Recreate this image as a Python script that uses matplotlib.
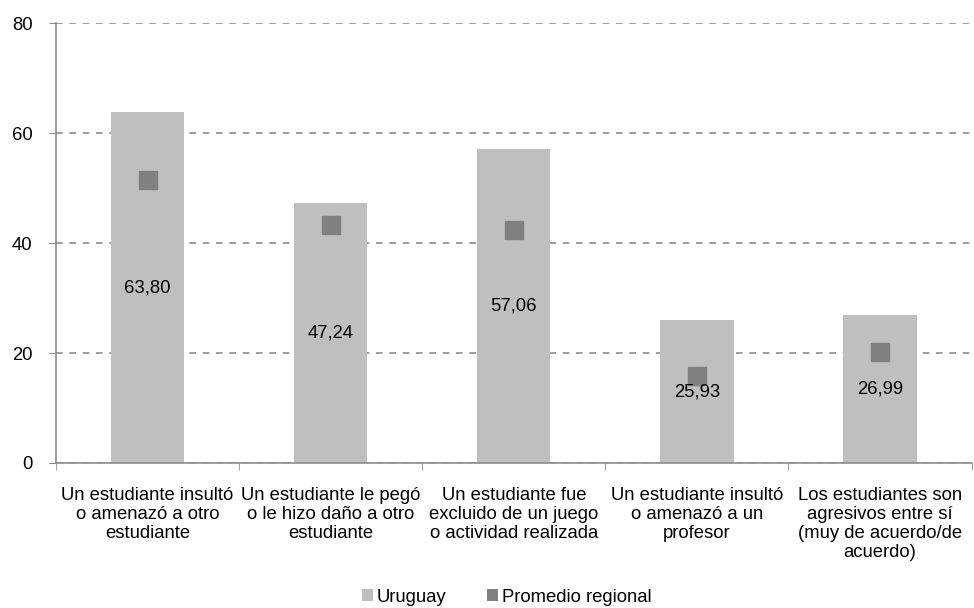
import matplotlib.pyplot as plt
from matplotlib.patches import Patch
import numpy as np

plt.rcParams['font.family'] = ['Liberation Sans', 'DejaVu Sans']

categories = [
    'Un estudiante insultó\no amenazó a otro\nestudiante',
    'Un estudiante le pegó\no le hizo daño a otro\nestudiante',
    'Un estudiante fue\nexcluido de un juego\no actividad realizada',
    'Un estudiante insultó\no amenazó a un\nprofesor',
    'Los estudiantes son\nagresivos entre sí\n(muy de acuerdo/de\nacuerdo)',
]
uruguay = [63.80, 47.24, 57.06, 25.93, 26.99]
regional = [51.5, 43.3, 42.4, 15.8, 20.2]

bar_color = '#bfbfbf'
mark_color = '#808080'
axis_color = '#8c8c8c'
fs = 13.3

fig = plt.figure(figsize=(9.74, 6.08), dpi=100)
ax = fig.add_axes([0.0575, 0.2385, 0.94, 0.7235])

x = np.arange(len(categories))
ax.bar(x, uruguay, width=0.4, color=bar_color, zorder=2)
ax.plot(x, regional, linestyle='none', marker='s', markersize=13,
        color=mark_color, zorder=3)

for xi, v in zip(x, uruguay):
    ax.text(xi, v / 2, f'{v:.2f}'.replace('.', ','), ha='center', va='center',
            fontsize=fs, color='black', zorder=4)

ax.set_xlim(-0.5, len(categories) - 0.5)
ax.set_ylim(0, 80)
ax.set_yticks([0, 20, 40, 60, 80])
ax.yaxis.grid(True, linestyle=(0, (4, 4)), color=axis_color, linewidth=1.2, zorder=0)
ax.set_axisbelow(True)

ax.set_xticks(x)
ax.set_xticklabels(categories, fontsize=fs, linespacing=1.17)
ax.set_xticks(np.arange(len(categories) + 1) - 0.5, minor=True)
ax.tick_params(axis='x', which='major', length=0, pad=17)
ax.tick_params(axis='x', which='minor', length=5, color=axis_color, direction='out')
ax.tick_params(axis='y', length=5, color=axis_color, labelsize=fs, pad=12)

for s in ['top', 'right']:
    ax.spines[s].set_visible(False)
for s in ['left', 'bottom']:
    ax.spines[s].set_color(axis_color)
    ax.spines[s].set_linewidth(1.2)

handles = [Patch(facecolor=bar_color, label='Uruguay'),
           Patch(facecolor=mark_color, label='Promedio regional')]
fig.legend(handles=handles, loc='center', bbox_to_anchor=(0.52, 0.018), ncol=2,
           frameon=False, fontsize=fs, handlelength=0.6, handleheight=0.6,
           columnspacing=2.2, handletextpad=0.2, borderpad=0)

fig.savefig('out.png', dpi=100)
